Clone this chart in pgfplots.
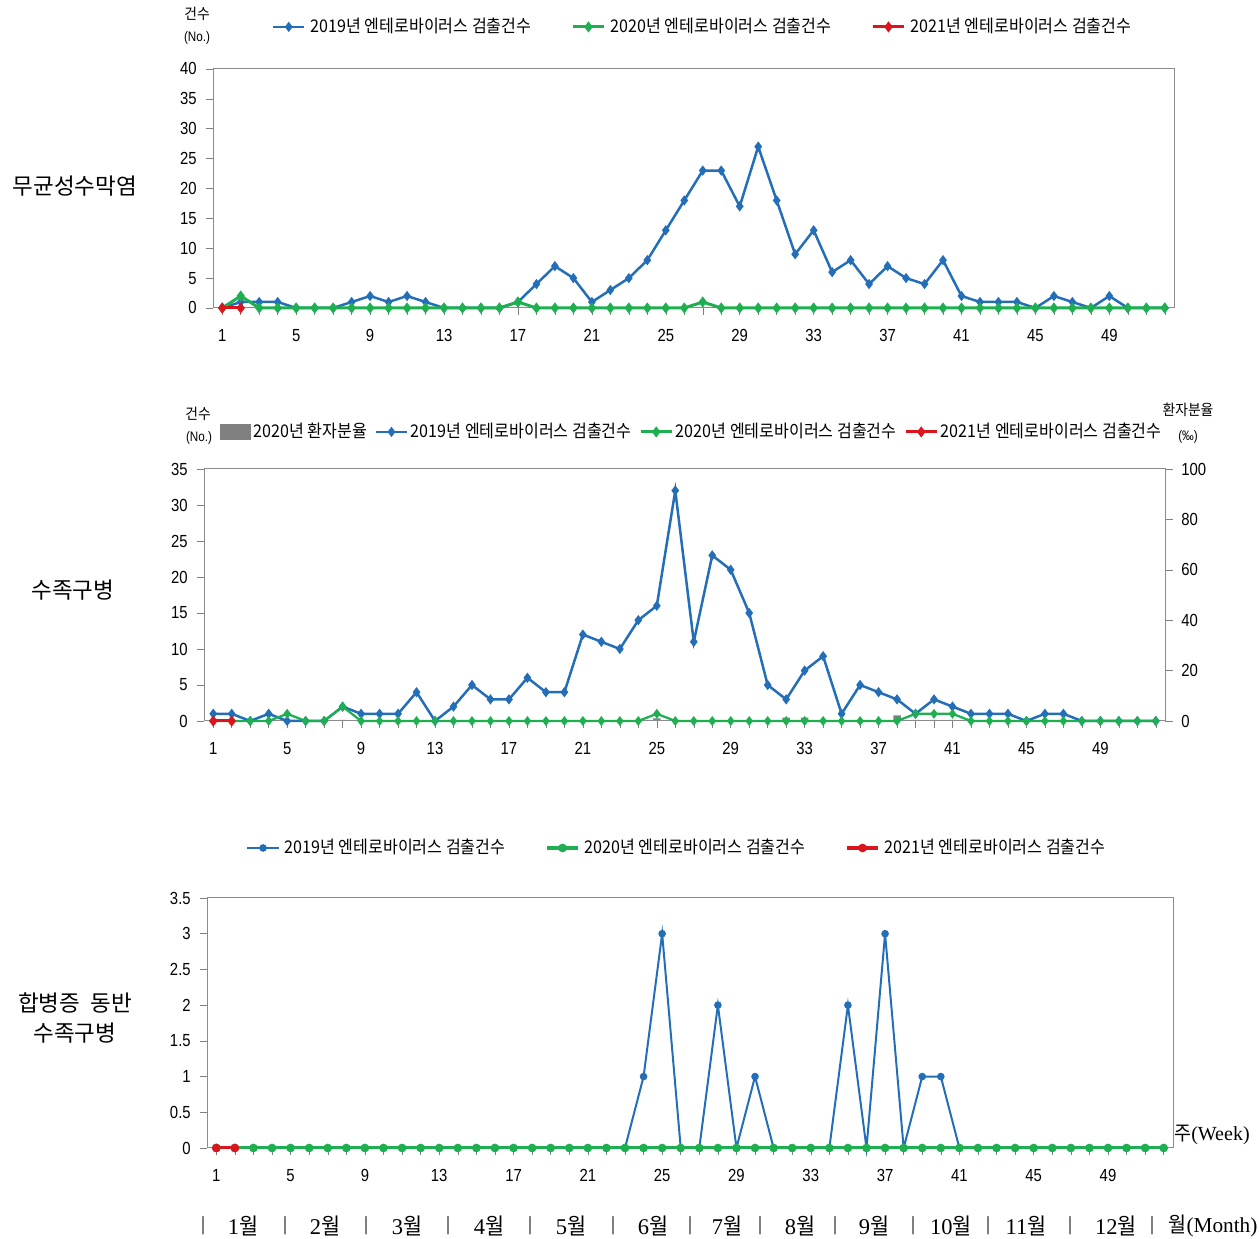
\documentclass[border=0pt]{standalone}
\usepackage{fontspec}
\usepackage{pgfplots}
\pgfplotsset{compat=1.18}
\setmainfont{Noto Sans CJK KR}
\newfontfamily\kr{Noto Sans CJK KR}
\newfontfamily\krn[FakeStretch=0.92]{Noto Sans CJK KR}
\newfontfamily\num[FakeStretch=0.85]{Liberation Sans}
\newfontfamily\ser{Liberation Serif}
\definecolor{c19}{RGB}{36,110,184}
\definecolor{c20}{RGB}{30,176,80}
\definecolor{c21}{RGB}{220,20,30}
\definecolor{cbar}{RGB}{128,128,128}
\pgfplotsset{
 chart/.style={
  scale only axis, xmin=0.5, xmax=52.5, clip=false,
  axis line style={draw=black!45},
  xtick={1,5,...,49}, minor xtick={1,...,52},
  tick align=outside, major tick length=3pt, minor tick length=3pt,
  tick style={black!50},
  xtick pos=lower, ytick pos=left,
  ticklabel style={font=\num\fontsize{7}{8}\selectfont},
  x tick label style={yshift=-2pt},
  /pgf/number format/assume math mode=true,
  legend style={draw=none, fill=none, legend columns=-1, font=\krn\fontsize{7}{8}\selectfont},
  legend image code/.code={\draw[mark repeat=2,mark phase=2,##1] plot coordinates {(0cm,0cm) (0.22cm,0cm) (0.44cm,0cm)};},
 },
 s19/.style={color=c19, line width=1pt, mark=diamond*, mark size=1.25pt, mark options={solid}},
 s20/.style={color=c20, line width=1.2pt, mark=diamond*, mark size=1.25pt, mark options={solid}},
 s21/.style={color=c21, line width=1.2pt, mark=diamond*, mark size=1.25pt, mark options={solid}},
}
\begin{document}
\begin{tikzpicture}[x=0.4pt,y=0.4pt]
\path[use as bounding box] (0,0) rectangle (1259,1239);
% ---------- left labels
\node[font=\kr\fontsize{9}{10}\selectfont] at (75,1053) {무균성수막염};
\node[font=\kr\fontsize{9}{10}\selectfont] at (73,649) {수족구병};
\node[font=\kr\fontsize{9}{12}\selectfont, align=center] at (75,221) {합병증\ \ 동반\\수족구병};
% ---------- panel 1
\node[font=\krn\fontsize{6}{7}\selectfont] at (197,1225) {건수};
\node[font=\num\fontsize{5.5}{6}\selectfont] at (197,1201) {(No.)};
\begin{axis}[chart, at={(85.2pt,372.4pt)}, anchor=south west, width=384.4pt, height=95.6pt,
  ymin=0, ymax=40, ytick={0,5,...,40},
  legend style={at={(0.511,1.176)}, anchor=center, /tikz/every even column/.append style={column sep=14pt}}]
\addplot[s19] coordinates {(1,0)(2,1)(3,1)(4,1)(5,0)(6,0)(7,0)(8,1)(9,2)(10,1)(11,2)(12,1)(13,0)(14,0)(15,0)(16,0)(17,1)(18,4)(19,7)(20,5)(21,1)(22,3)(23,5)(24,8)(25,13)(26,18)(27,23)(28,23)(29,17)(30,27)(31,18)(32,9)(33,13)(34,6)(35,8)(36,4)(37,7)(38,5)(39,4)(40,8)(41,2)(42,1)(43,1)(44,1)(45,0)(46,2)(47,1)(48,0)(49,2)(50,0)(51,0)(52,0)};
\addlegendentry{2019년 엔테로바이러스 검출건수}
\addplot[s20] coordinates {(1,0)(2,2)(3,0)(4,0)(5,0)(6,0)(7,0)(8,0)(9,0)(10,0)(11,0)(12,0)(13,0)(14,0)(15,0)(16,0)(17,1)(18,0)(19,0)(20,0)(21,0)(22,0)(23,0)(24,0)(25,0)(26,0)(27,1)(28,0)(29,0)(30,0)(31,0)(32,0)(33,0)(34,0)(35,0)(36,0)(37,0)(38,0)(39,0)(40,0)(41,0)(42,0)(43,0)(44,0)(45,0)(46,0)(47,0)(48,0)(49,0)(50,0)(51,0)(52,0)};
\addlegendentry{2020년 엔테로바이러스 검출건수}
\addplot[s21] coordinates {(1,0)(2,0)};
\addlegendentry{2021년 엔테로바이러스 검출건수}
\end{axis}
% ---------- panel 2
\node[font=\krn\fontsize{6}{7}\selectfont] at (198,825) {건수};
\node[font=\num\fontsize{5.5}{6}\selectfont] at (199,801) {(No.)};
\node[font=\krn\fontsize{6}{7}\selectfont] at (1188,829) {환자분율};
\node[font=\num\fontsize{5.5}{6}\selectfont] at (1188,802) {(‰)};
\begin{axis}[chart, at={(81.6pt,207.2pt)}, anchor=south west, width=384.4pt, height=100.8pt,
  ymin=0, ymax=100, ytick={0,20,...,100}, hide x axis, axis y line*=right, ytick pos=right,
  legend style={at={(0.508,1.147)}, anchor=center, nodes={inner xsep=1pt}, /tikz/every even column/.append style={column sep=2pt}}]
\addplot[ybar, bar width=3pt, fill=cbar, draw=none, forget plot] coordinates {(8,0.4)(25,1)(32,1.3)(33,1.3)(38,2.2)(39,0.4)(40,0.4)(41,0.4)};
\addlegendimage{legend image code/.code={\fill[cbar] (0cm,-0.1cm) rectangle (0.42cm,0.1cm);}}
\addlegendentry{2020년 환자분율}
\addlegendimage{s19}
\addlegendentry{2019년 엔테로바이러스 검출건수}
\addlegendimage{s20}
\addlegendentry{2020년 엔테로바이러스 검출건수}
\addlegendimage{s21}
\addlegendentry{2021년 엔테로바이러스 검출건수}
\end{axis}
\begin{axis}[chart, at={(81.6pt,207.2pt)}, anchor=south west, width=384.4pt, height=100.8pt,
  ymin=0, ymax=35, ytick={0,5,...,35}]
\addplot[s19] coordinates {(1,1)(2,1)(3,0)(4,1)(5,0)(6,0)(7,0)(8,2)(9,1)(10,1)(11,1)(12,4)(13,0)(14,2)(15,5)(16,3)(17,3)(18,6)(19,4)(20,4)(21,12)(22,11)(23,10)(24,14)(25,16)(26,32)(27,11)(28,23)(29,21)(30,15)(31,5)(32,3)(33,7)(34,9)(35,1)(36,5)(37,4)(38,3)(39,1)(40,3)(41,2)(42,1)(43,1)(44,1)(45,0)(46,1)(47,1)(48,0)(49,0)(50,0)(51,0)(52,0)};
\addplot[s20, line width=0.9pt] coordinates {(1,0)(2,0)(3,0)(4,0)(5,1)(6,0)(7,0)(8,2)(9,0)(10,0)(11,0)(12,0)(13,0)(14,0)(15,0)(16,0)(17,0)(18,0)(19,0)(20,0)(21,0)(22,0)(23,0)(24,0)(25,1)(26,0)(27,0)(28,0)(29,0)(30,0)(31,0)(32,0)(33,0)(34,0)(35,0)(36,0)(37,0)(38,0)(39,1)(40,1)(41,1)(42,0)(43,0)(44,0)(45,0)(46,0)(47,0)(48,0)(49,0)(50,0)(51,0)(52,0)};
\addplot[s21] coordinates {(1,0)(2,0)};
\end{axis}
% ---------- panel 3
\begin{axis}[chart, at={(82.8pt,36.4pt)}, anchor=south west, width=386.4pt, height=100pt,
  ymin=0, ymax=3.5, ytick={0,0.5,...,3.5},
  legend style={at={(0.488,1.2)}, anchor=center, /tikz/every even column/.append style={column sep=14pt}}]
\addplot[s19, line width=0.8pt, mark=*, mark size=1.1pt] coordinates {(1,0)(2,0)(3,0)(4,0)(5,0)(6,0)(7,0)(8,0)(9,0)(10,0)(11,0)(12,0)(13,0)(14,0)(15,0)(16,0)(17,0)(18,0)(19,0)(20,0)(21,0)(22,0)(23,0)(24,1)(25,3)(26,0)(27,0)(28,2)(29,0)(30,1)(31,0)(32,0)(33,0)(34,0)(35,2)(36,0)(37,3)(38,0)(39,1)(40,1)(41,0)(42,0)(43,0)(44,0)(45,0)(46,0)(47,0)(48,0)(49,0)(50,0)(51,0)(52,0)};
\addlegendentry{2019년 엔테로바이러스 검출건수}
\addplot[s20, mark=*, mark size=1.1pt] coordinates {(1,0)(2,0)(3,0)(4,0)(5,0)(6,0)(7,0)(8,0)(9,0)(10,0)(11,0)(12,0)(13,0)(14,0)(15,0)(16,0)(17,0)(18,0)(19,0)(20,0)(21,0)(22,0)(23,0)(24,0)(25,0)(26,0)(27,0)(28,0)(29,0)(30,0)(31,0)(32,0)(33,0)(34,0)(35,0)(36,0)(37,0)(38,0)(39,0)(40,0)(41,0)(42,0)(43,0)(44,0)(45,0)(46,0)(47,0)(48,0)(49,0)(50,0)(51,0)(52,0)};
\addlegendentry{2020년 엔테로바이러스 검출건수}
\addplot[s21, mark=*, mark size=1.1pt] coordinates {(1,0)(2,0)};
\addlegendentry{2021년 엔테로바이러스 검출건수}
\end{axis}
\node[font=\ser\fontsize{8}{9}\selectfont] at (1212,104) {{\krn 주}(Week)};
% ---------- month row
\foreach \xx in {203,285,366,448,530,613,690,760,835,913,988,1070,1152}
  \node[font=\ser\fontsize{8}{9}\selectfont] at (\xx,13) {|};
\foreach \xx/\mm in {243/1,325/2,407/3,489/4,571/5,653/6,727/7,800/8,874/9,951/10,1026/11,1116/12}
  \node[font=\ser\fontsize{9}{10}\selectfont] at (\xx,13) {\mm{\krn 월}};
\node[font=\ser\fontsize{8.5}{10}\selectfont] at (1213,13) {{\krn 월}(Month)};
\end{tikzpicture}
\end{document}
